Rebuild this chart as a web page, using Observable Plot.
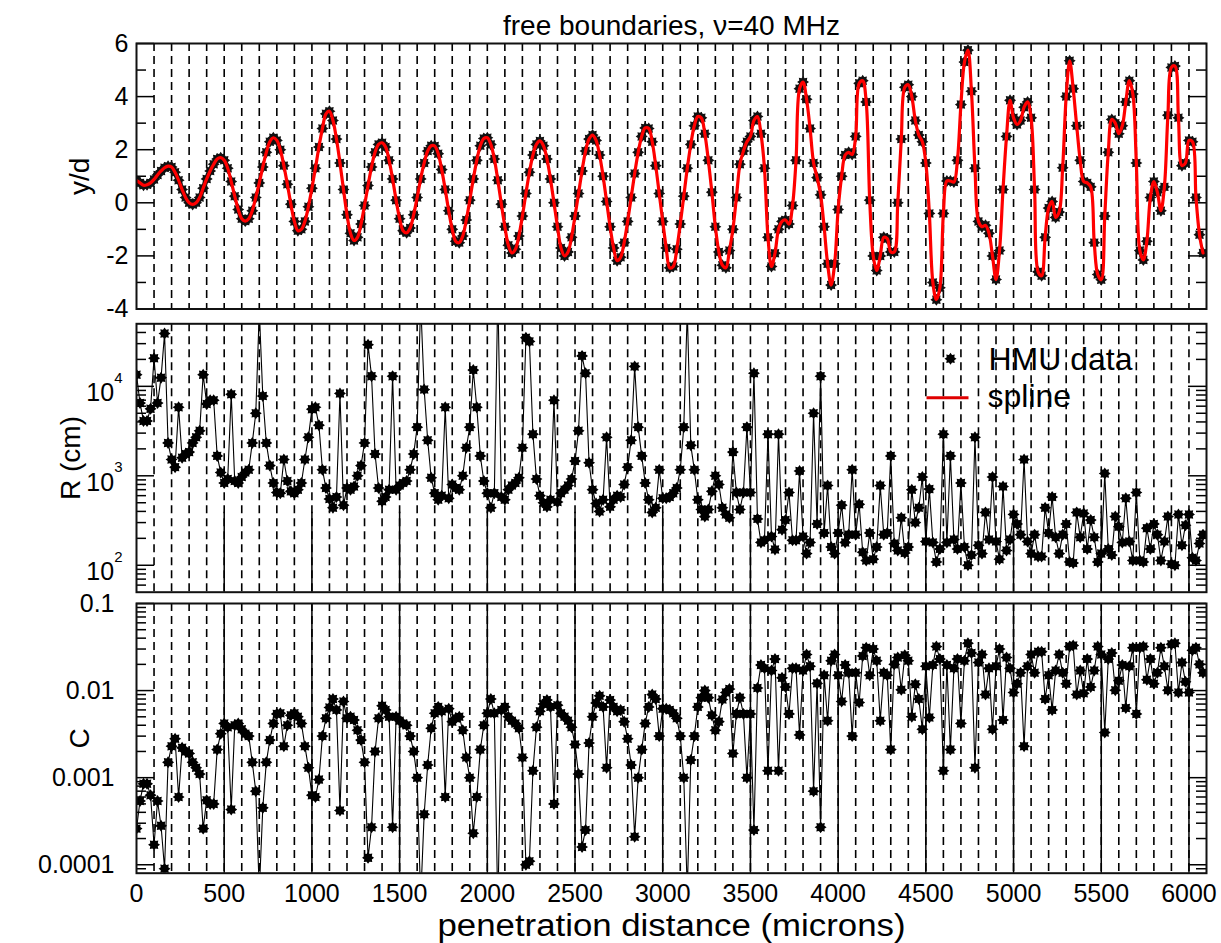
<!DOCTYPE html>
<html><head><meta charset="utf-8">
<script src="https://cdn.jsdelivr.net/npm/d3@7"></script>
<script src="https://cdn.jsdelivr.net/npm/@observablehq/plot@0.6"></script>
<style>
html,body{margin:0;padding:0;background:#fff;}
#chart{position:relative;width:1221px;height:943px;overflow:hidden;background:#fff;}
</style></head><body><div id="chart"></div>
<script>
// ---------------- data ----------------
const depth = [
0,20,40,60,80,100,120,140,160,180,
200,220,240,260,280,300,320,340,360,380,
400,420,440,460,480,500,520,540,560,580,
600,620,640,660,680,700,720,740,760,780,
800,820,840,860,880,900,920,940,960,980,
1000,1020,1040,1060,1080,1100,1120,1140,1160,1180,
1200,1220,1240,1260,1280,1300,1320,1340,1360,1380,
1400,1420,1440,1460,1480,1500,1520,1540,1560,1580,
1600,1620,1640,1660,1680,1700,1720,1740,1760,1780,
1800,1820,1840,1860,1880,1900,1920,1940,1960,1980,
2000,2020,2040,2060,2080,2100,2120,2140,2160,2180,
2200,2220,2240,2260,2280,2300,2320,2340,2360,2380,
2400,2420,2440,2460,2480,2500,2520,2540,2560,2580,
2600,2620,2640,2660,2680,2700,2720,2740,2760,2780,
2800,2820,2840,2860,2880,2900,2920,2940,2960,2980,
3000,3020,3040,3060,3080,3100,3120,3140,3160,3180,
3200,3220,3240,3260,3280,3300,3320,3340,3360,3380,
3400,3420,3440,3460,3480,3500,3520,3540,3560,3580,
3600,3620,3640,3660,3680,3700,3720,3740,3760,3780,
3800,3820,3840,3860,3880,3900,3920,3940,3960,3980,
4000,4020,4040,4060,4080,4100,4120,4140,4160,4180,
4200,4220,4240,4260,4280,4300,4320,4340,4360,4380,
4400,4420,4440,4460,4480,4500,4520,4540,4560,4580,
4600,4620,4640,4660,4680,4700,4720,4740,4760,4780,
4800,4820,4840,4860,4880,4900,4920,4940,4960,4980,
5000,5020,5040,5060,5080,5100,5120,5140,5160,5180,
5200,5220,5240,5260,5280,5300,5320,5340,5360,5380,
5400,5420,5440,5460,5480,5500,5520,5540,5560,5580,
5600,5620,5640,5660,5680,5700,5720,5740,5760,5780,
5800,5820,5840,5860,5880,5900,5920,5940,5960,5980,
6000,6020,6040,6060,6080];

const yd = [
0.84,0.75,0.66,0.68,0.75,0.88,1.05,1.2,1.32,1.38,
1.35,1.15,0.85,0.5,0.2,0.0,-0.06,0.0,0.2,0.55,
0.9,1.2,1.45,1.65,1.7,1.6,1.3,0.8,0.25,-0.25,
-0.6,-0.69,-0.6,-0.3,0.2,0.75,1.35,1.9,2.3,2.45,
2.35,2.0,1.4,0.7,-0.05,-0.7,-1.05,-1.0,-0.7,-0.15,
0.55,1.3,2.1,2.8,3.35,3.45,3.1,2.4,1.5,0.5,
-0.45,-1.15,-1.42,-1.3,-0.8,-0.1,0.65,1.35,1.9,2.2,
2.26,2.1,1.6,0.9,0.1,-0.6,-1.05,-1.13,-0.95,-0.45,
0.2,0.9,1.5,1.95,2.15,2.14,1.85,1.25,0.5,-0.3,
-1.0,-1.45,-1.5,-1.25,-0.65,0.1,0.9,1.6,2.15,2.42,
2.45,2.2,1.65,0.85,-0.05,-0.9,-1.6,-1.89,-1.75,-1.25,
-0.5,0.35,1.15,1.8,2.2,2.33,2.15,1.65,0.9,0.0,
-0.9,-1.7,-2.0,-1.85,-1.3,-0.5,0.35,1.2,1.95,2.4,
2.55,2.35,1.8,1.0,0.05,-0.9,-1.7,-2.18,-2.05,-1.5,
-0.7,0.2,1.1,1.9,2.5,2.82,2.8,2.3,1.4,0.35,
-0.7,-1.7,-2.45,-2.4,-1.75,-0.8,0.25,1.3,2.2,2.9,
3.25,3.2,2.6,1.6,0.4,-0.9,-1.85,-2.35,-2.45,-1.8,
-1.0,0.2,1.45,1.95,2.3,2.5,3.1,3.25,2.6,1.3,
-1.3,-2.4,-1.9,-1.0,-0.7,-0.65,-0.8,-0.1,1.6,4.3,
4.55,3.9,2.8,1.5,0.95,0.3,-0.9,-2.3,-3.1,-2.3,
-0.25,1.0,1.8,1.9,1.82,2.5,4.5,4.6,3.8,0.1,
-2.0,-2.55,-2.0,-1.3,-1.35,-1.85,-1.85,0.0,2.4,4.35,
4.45,4.0,3.1,2.55,2.3,1.5,-0.4,-3.0,-3.65,-3.2,
-0.4,0.82,0.82,0.78,1.6,3.7,5.3,5.75,4.2,1.3,
-0.7,-0.9,-0.85,-1.15,-2.0,-2.89,-1.8,0.5,2.5,3.86,
3.2,2.95,3.1,3.6,3.8,3.2,0.5,-2.6,-2.75,-1.3,
-0.2,0.05,-0.55,-0.35,1.32,4.0,5.35,4.3,2.9,1.6,
0.8,0.75,0.6,-1.5,-2.7,-2.9,-0.5,1.9,3.14,3.0,
2.6,2.9,3.8,4.6,4.1,1.5,-1.8,-2.15,-1.45,0.2,
0.8,0.4,-0.3,0.6,3.3,5.1,5.15,3.2,1.4,1.5,
2.35,2.3,0.2,-1.2,-1.89];

const radius = [
13500,6500,4100,4100,5600,20600,6500,12500,38900,2330,
1520,1250,5830,1590,1750,1840,2330,2690,3180,13500,
6360,7000,7000,1670,1090,830,920,8140,875,830,
970,1090,1170,2330,5000,70000,7780,2330,1300,830,
650,640,1520,875,670,640,700,830,1520,2690,
5560,5830,3680,1170,730,550,440,580,8330,470,
730,700,760,1000,1300,2330,29200,13000,1750,730,
520,580,700,13000,700,780,830,875,1170,1750,
3500,87500,9200,2500,950,640,540,600,5830,560,
800,730,700,1000,2060,3500,15200,5830,1670,875,
640,440,640,117000,580,540,700,780,830,950,
2060,35000,31800,2920,920,600,500,450,540,7000,
510,640,700,780,920,1460,3180,21900,14000,1400,
700,490,400,540,2690,450,540,600,580,800,
1250,2500,16700,3500,1670,830,540,390,440,1170,
560,560,580,640,730,1170,3500,70000,2190,1170,
540,420,350,420,670,1000,800,440,370,340,
1840,650,420,650,3500,650,14000,330,180,190,
2920,210,150,2920,250,320,650,190,190,1130,
210,135,180,5000,290,13000,230,780,160,135,
230,470,180,220,1170,220,480,140,113,230,
117,160,780,220,230,1670,175,146,340,137,
160,700,300,440,970,184,710,180,109,152,
2920,180,1670,194,152,830,160,100,130,2690,
167,135,390,194,970,184,117,760,146,194,
370,290,220,1520,184,135,220,125,125,440,
230,580,206,135,220,290,109,106,390,206,
380,152,320,206,109,135,1060,152,130,350,
270,180,560,184,113,650,113,109,260,152,
290,220,113,184,350,103,100,370,167,280,
370,121,113,175,220];

const curv = [
0.00026,0.00054,0.00085,0.00085,0.00063,0.00017,0.00054,0.00028,0.00009,0.0015,
0.0023,0.0028,0.0006,0.0022,0.0020,0.0019,0.0015,0.0013,0.0011,0.00026,
0.00055,0.0005,0.0005,0.0021,0.0032,0.0042,0.0038,0.00043,0.0040,0.0042,
0.0036,0.0032,0.0030,0.0015,0.0007,0.00005,0.00045,0.0015,0.0027,0.0042,
0.0054,0.0055,0.0023,0.0040,0.0052,0.0055,0.0050,0.0042,0.0023,0.0013,
0.00063,0.0006,0.00095,0.0030,0.0048,0.0064,0.0080,0.0060,0.00042,0.0075,
0.0048,0.0050,0.0046,0.0035,0.0027,0.0015,0.00012,0.00027,0.0020,0.0048,
0.0067,0.0060,0.0050,0.00027,0.0050,0.0045,0.0042,0.0040,0.0030,0.0020,
0.0010,0.00004,0.00038,0.0014,0.0037,0.0055,0.0065,0.0058,0.0006,0.0062,
0.0044,0.0048,0.0050,0.0035,0.0017,0.0010,0.00023,0.0006,0.0021,0.0040,
0.0055,0.0080,0.0055,0.00003,0.0060,0.0065,0.0050,0.0045,0.0042,0.0037,
0.0017,0.0001,0.00011,0.0012,0.0038,0.0058,0.0070,0.0078,0.0065,0.0005,
0.0068,0.0055,0.0050,0.0045,0.0038,0.0024,0.0011,0.00016,0.00025,0.0025,
0.0050,0.0072,0.0087,0.0065,0.0013,0.0078,0.0065,0.0058,0.0060,0.0044,
0.0028,0.0014,0.00021,0.0010,0.0021,0.0042,0.0065,0.0090,0.0080,0.0030,
0.0062,0.0062,0.0060,0.0055,0.0048,0.0030,0.0010,0.00005,0.0016,0.0030,
0.0065,0.0083,0.0100,0.0083,0.0052,0.0035,0.0044,0.0079,0.0095,0.0104,
0.0019,0.0054,0.0083,0.0054,0.0010,0.0054,0.00025,0.0107,0.0197,0.018,
0.0012,0.017,0.023,0.0012,0.014,0.011,0.0054,0.018,0.018,0.0031,
0.017,0.026,0.019,0.0007,0.0121,0.00027,0.015,0.0045,0.022,0.026,
0.015,0.0075,0.0197,0.016,0.003,0.016,0.0073,0.025,0.031,0.015,
0.030,0.022,0.0045,0.016,0.015,0.0021,0.020,0.024,0.0102,0.0255,
0.022,0.005,0.0118,0.008,0.0036,0.019,0.0049,0.0197,0.032,0.023,
0.0012,0.0197,0.0021,0.018,0.023,0.0042,0.022,0.035,0.027,0.0013,
0.021,0.026,0.009,0.018,0.0036,0.019,0.030,0.0046,0.024,0.018,
0.0095,0.012,0.016,0.0023,0.019,0.026,0.016,0.028,0.028,0.008,
0.015,0.006,0.017,0.026,0.016,0.012,0.032,0.033,0.009,0.017,
0.0093,0.023,0.011,0.017,0.032,0.026,0.0033,0.023,0.027,0.0101,
0.013,0.0197,0.0063,0.019,0.031,0.0054,0.031,0.032,0.0133,0.023,
0.012,0.016,0.031,0.019,0.0101,0.034,0.035,0.0095,0.021,0.0126,
0.0095,0.029,0.031,0.020,0.016];

const xTicks = [0,500,1000,1500,2000,2500,3000,3500,4000,4500,5000,5500,6000];
const ydTicks = [-4,-2,0,2,4,6];
const ydMinor = [-3,-1,1,3,5];
const rTicks = [100,1000,10000];
const cTicks = [0.0001,0.001,0.01,0.1];
const titleText = "free boundaries, \u03BD=40 MHz";
const xLabel = "penetration distance (microns)";
const yLabels = ["y/d", "R (cm)", "C"];
const legendItems = ["HMU data", "spline"];

// ---------------- layout ----------------
const W = 1221, ML = 136, MR = 15, FW = W - ML - MR;
const FONT = '"Liberation Sans", Arial, Helvetica, sans-serif';
const xDomain = [0, 6100];
const rows = depth.map((x, i) => ({x, yd: yd[i], R: radius[i], C: curv[i]}));
const gridX = d3.range(100, 6001, 100);
const chart = document.getElementById("chart");

const star = {
  draw(ctx, size) {
    const r = Math.sqrt(size / Math.PI), ri = r * 0.68, n = 8;
    for (let k = 0; k < 2 * n; ++k) {
      const a = Math.PI * k / n - Math.PI / 2, rr = k % 2 ? ri : r;
      const px = rr * Math.cos(a), py = rr * Math.sin(a);
      if (k) ctx.lineTo(px, py); else ctx.moveTo(px, py);
    }
    ctx.closePath();
  }
};
const dash = {
  draw(ctx) { ctx.moveTo(-21, 0); ctx.lineTo(21, 0); }
};

function logMinor(lo, hi) {
  const out = [];
  for (let e = Math.floor(Math.log10(lo)); e <= Math.ceil(Math.log10(hi)); ++e)
    for (let m = 2; m <= 9; ++m) { const v = m * Math.pow(10, e); if (v > lo && v < hi) out.push(v); }
  return out;
}
function edgeTicks(values, len) {
  return [
    Plot.tickY(values, {y: d => d, insetRight: FW - len, stroke: "black", strokeWidth: 1.5}),
    Plot.tickY(values, {y: d => d, insetLeft: FW - len, stroke: "black", strokeWidth: 1.5})
  ];
}
function grid() {
  return Plot.ruleX(gridX, {x: d => d, stroke: "black", strokeWidth: 1.6, strokeDasharray: "8,5"});
}
function yLabel(t, dx) {
  return Plot.text([t], {text: d => d, frameAnchor: "left", textAnchor: "middle", dx, rotate: -90, fontSize: 28});
}
function postProcess(svg) {
  d3.select(svg).selectAll("text").each(function () {
    if (this.textContent === xLabel) {
      this.setAttribute("textLength", 468);
      this.setAttribute("lengthAdjust", "spacingAndGlyphs");
      return;
    }
    const m = /^10\^(-?\d+)$/.exec(this.textContent);
    if (!m) return;
    this.textContent = "";
    const s = d3.select(this);
    s.append("tspan").attr("dy", "0.28em").text("10");
    s.append("tspan").attr("dy", "-1.24em").attr("font-size", "0.6em").text(m[1]);
  });
}
function panel(top, height, mt, mb, y, marks) {
  const svg = Plot.plot({
    width: W, height, marginLeft: ML, marginRight: MR, marginTop: mt, marginBottom: mb,
    style: {background: "none", overflow: "visible", fontFamily: FONT, color: "black", maxWidth: "none"},
    x: {domain: xDomain, axis: null},
    y: {...y, axis: null},
    marks
  });
  svg.style.position = "absolute";
  svg.style.left = "0px";
  svg.style.top = top + "px";
  postProcess(svg);
  chart.appendChild(svg);
  return svg;
}

// ---------------- top panel: y/d ----------------
panel(0, 312, 43, 3.5, {domain: [-4, 6]}, [
  grid(),
  ...edgeTicks(ydTicks, 18), ...edgeTicks(ydMinor, 10),
  Plot.dot(rows, {x: "x", y: "yd", symbol: star, r: 6, fill: "#111", clip: true}),
  Plot.line(rows, {x: "x", y: "yd", stroke: "#ff0000", strokeWidth: 3.2, curve: "catmull-rom", clip: true}),
  Plot.axisY(ydTicks, {tickSize: 0, tickPadding: 8, fontSize: 25, tickFormat: d => String(d), label: null}),
  yLabel(yLabels[0], -56),
  Plot.text([titleText], {text: d => d, frameAnchor: "top", dy: -9, lineAnchor: "bottom", fontSize: 28}),
  Plot.frame({stroke: "#111", strokeWidth: 2})
]);

// ---------------- middle panel: R ----------------
const rDomain = [50, 50000];
panel(312, 285, 11.3, 5.3, {type: "log", domain: rDomain}, [
  grid(),
  Plot.tickX(xTicks.slice(1), {x: d => d, insetTop: 268.4 - 80, stroke: "black", strokeWidth: 1.5}),
  ...edgeTicks(rTicks, 18), ...edgeTicks(logMinor(...rDomain), 10),
  Plot.line(rows, {x: "x", y: "R", stroke: "black", strokeWidth: 1.1, clip: true}),
  Plot.dot(rows, {x: "x", y: "R", symbol: star, r: 6, fill: "black", clip: true}),
  Plot.axisY(rTicks, {tickSize: 0, tickPadding: 14, fontSize: 25, tickFormat: d => "10^" + Math.round(Math.log10(d)), label: null}),
  yLabel(yLabels[1], -65),
  Plot.dot([0], {frameAnchor: "top-left", dx: 814, dy: 35, symbol: star, r: 6, fill: "black"}),
  Plot.dot([0], {frameAnchor: "top-left", dx: 811, dy: 74, symbol: dash, r: 5, fill: "none", stroke: "#e00000", strokeWidth: 3}),
  Plot.text([legendItems[0]], {text: d => d, frameAnchor: "top-left", dx: 852, dy: 46.2, textAnchor: "start", lineAnchor: "bottom", fontSize: 32}),
  Plot.text([legendItems[1]], {text: d => d, frameAnchor: "top-left", dx: 851, dy: 83.2, textAnchor: "start", lineAnchor: "bottom", fontSize: 32}),
  Plot.frame({stroke: "#111", strokeWidth: 2})
]);

// ---------------- bottom panel: C ----------------
const cDomain = [8e-5, 0.1];
panel(597, 346, 6, 70.3, {type: "log", domain: cDomain}, [
  grid(),
  Plot.tickX(xTicks.slice(1), {x: d => d, stroke: "black", strokeWidth: 1.5}),
  ...edgeTicks(cTicks, 18), ...edgeTicks(logMinor(...cDomain), 10),
  Plot.line(rows, {x: "x", y: "C", stroke: "black", strokeWidth: 1.1, clip: true}),
  Plot.dot(rows, {x: "x", y: "C", symbol: star, r: 6, fill: "black", clip: true}),
  Plot.axisY(cTicks, {tickSize: 0, tickPadding: 22, fontSize: 25, tickFormat: d => String(d), label: null}),
  Plot.axisX(xTicks, {tickSize: 0, tickPadding: 11, fontSize: 25, tickFormat: d => String(d), label: null}),
  yLabel(yLabels[2], -56),
  Plot.text([xLabel], {text: d => d, frameAnchor: "bottom", dy: 62.8, lineAnchor: "bottom", fontSize: 31}),
  Plot.frame({stroke: "#111", strokeWidth: 2})
]);
</script></body></html>
